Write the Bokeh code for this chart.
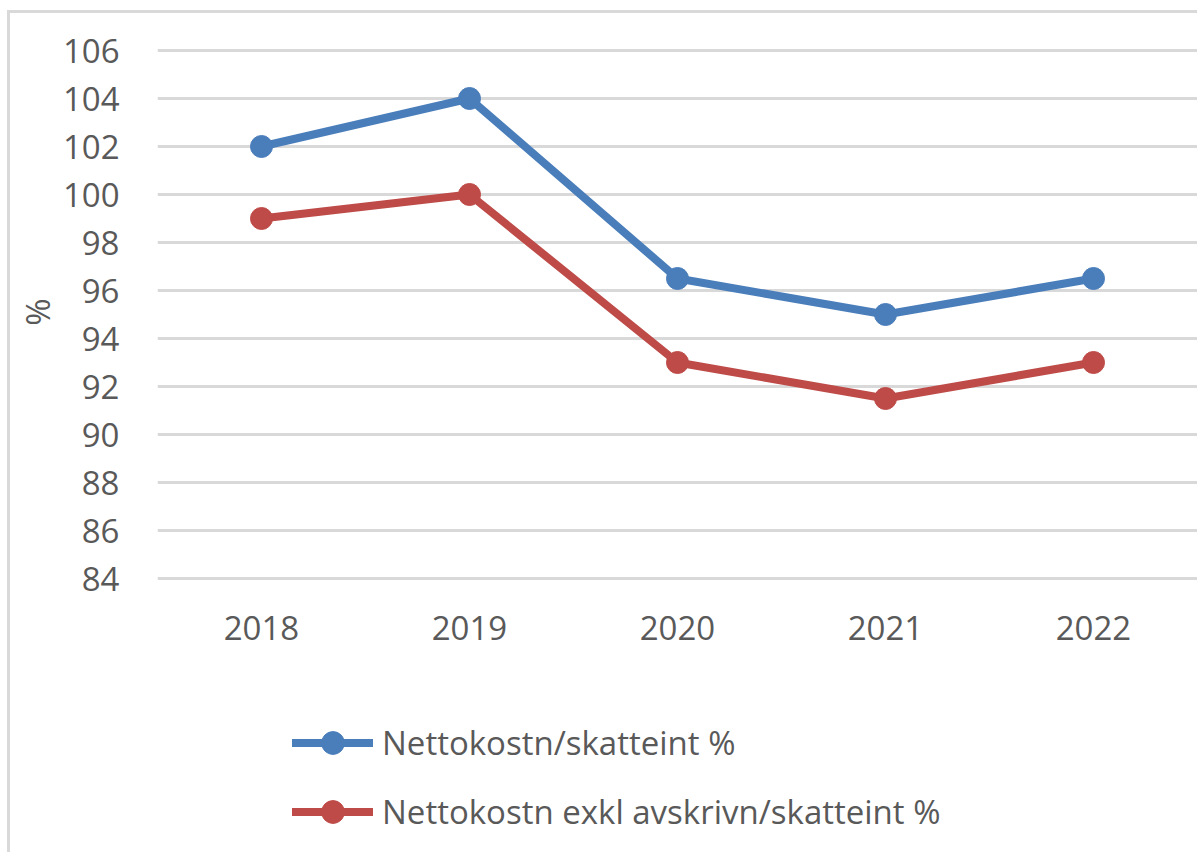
from bokeh.plotting import figure
from bokeh.models import Range1d, Legend, LegendItem, Title
from bokeh.embed import file_html
from bokeh.resources import INLINE

years = ["2018", "2019", "2020", "2021", "2022"]
netto = [102, 104, 96.5, 95, 96.5]
netto_exkl = [99, 100, 93, 91.5, 93]
y_ticks = list(range(84, 107, 2))
series_names = ["Nettokostn/skatteint %", "Nettokostn exkl avskrivn/skatteint %"]

FONT = "Open Sans"
TXT = "#595959"
BLUE = "#4A7EBB"
RED = "#BE4B48"
FS = "33px"

# layout (pixels)
W, H = 1190, 842
TOP, BOTTOM = 35, 5
PX_PER_UNIT = 24
frame_h = H - TOP - BOTTOM
y_top = y_ticks[-1] + 2 / PX_PER_UNIT
y_bottom = y_top - frame_h / PX_PER_UNIT

p = figure(x_range=years, y_range=Range1d(y_bottom, y_top),
           width=W, height=H, output_backend="svg", toolbar_location=None,
           min_border_left=147, min_border_right=3, min_border_top=TOP, min_border_bottom=BOTTOM)
p.styles = {"margin-left": "7px", "margin-top": "10px",
            "border-left": "3px solid #d9d9d9", "border-top": "3px solid #d9d9d9"}
p.outline_line_color = None
p.background_fill_color = "white"
p.border_fill_color = "white"

p.xgrid.grid_line_color = None
p.ygrid.grid_line_color = "#d9d9d9"
p.ygrid.grid_line_width = 3
p.yaxis.ticker = y_ticks
p.xaxis.fixed_location = y_ticks[0]

for ax in (p.xaxis[0], p.yaxis[0]):
    ax.axis_line_color = None
    ax.major_tick_line_color = None
    ax.minor_tick_line_color = None
    ax.major_label_text_font = FONT
    ax.major_label_text_color = TXT
    ax.major_label_text_font_size = FS

p.yaxis.major_label_standoff = 32
p.xaxis.major_label_standoff = 31

pct = Title(text="%", align="right", offset=250, text_font=FONT, text_font_style="normal",
            text_color=TXT, text_font_size=FS, standoff=0)
p.add_layout(pct, "left")

items = []
for vals, col, name in ((netto, BLUE, series_names[0]), (netto_exkl, RED, series_names[1])):
    l = p.line(years, vals, line_color=col, line_width=8, line_cap="round", line_join="round")
    s = p.scatter(years, vals, size=22, fill_color=col, line_color=col)
    items.append(LegendItem(label=name, renderers=[l, s]))

legend = Legend(items=items, location=(135, 10), orientation="vertical",
                glyph_width=81, glyph_height=57, label_height=57, spacing=12,
                label_standoff=9, padding=0, margin=0,
                border_line_color=None, background_fill_alpha=0,
                label_text_font=FONT, label_text_color=TXT, label_text_font_size=FS)
p.add_layout(legend, "center")

open("out.html", "w").write(file_html(p, INLINE))
